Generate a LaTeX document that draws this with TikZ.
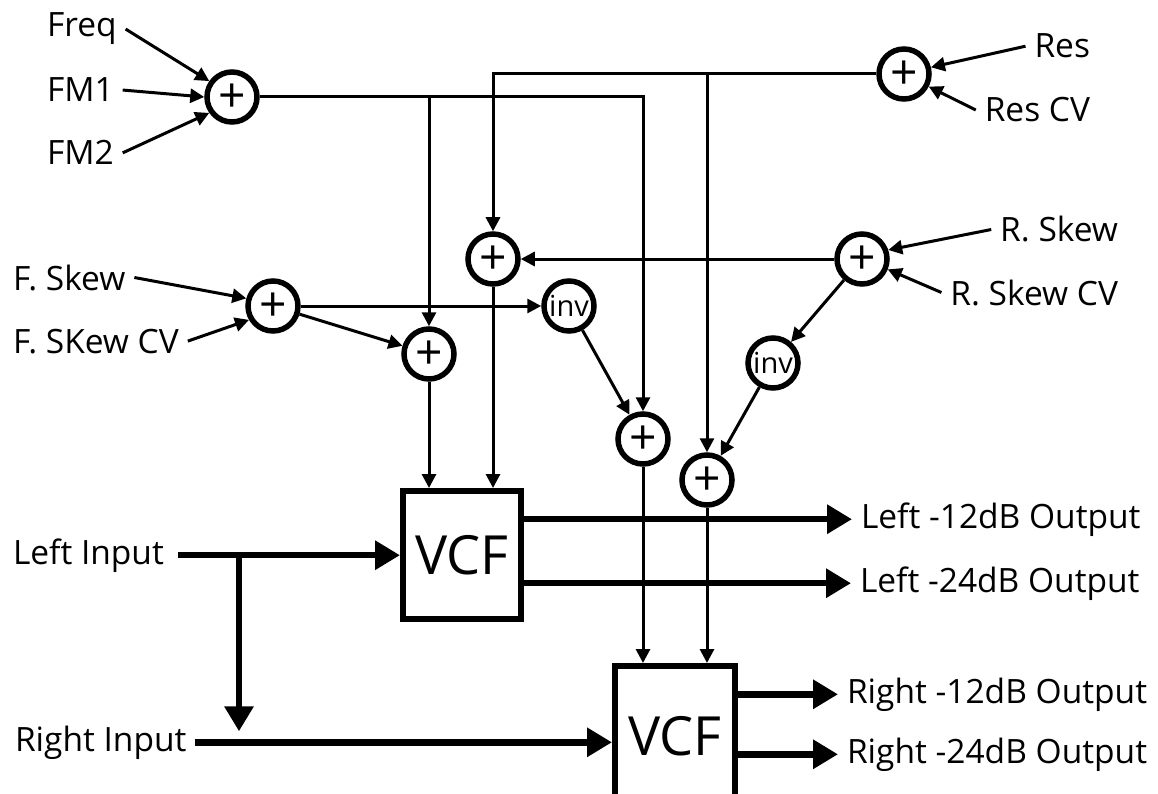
\documentclass[tikz,border=0pt]{standalone}
\usepackage{fontspec}
\setmainfont{Open Sans}
\usetikzlibrary{arrows.meta}
\begin{document}
\begin{tikzpicture}[x=1pt,y=-1pt,
  sum/.style={circle,draw,fill=white,line width=5.5pt,minimum size=50pt,inner sep=0pt,
    font=\fontsize{48}{48}\selectfont},
  invn/.style={circle,draw,fill=white,line width=5.5pt,minimum size=50pt,inner sep=0pt,
    font=\fontsize{29}{29}\selectfont},
  lbl/.style={inner sep=0pt,outer sep=9pt,font=\fontsize{33.5}{33.5}\selectfont},
  arr/.style={line width=3pt,-{Triangle[length=14pt,width=14pt]}},
  bus/.style={line width=6.5pt,-{Triangle[length=25pt,width=28pt]}},
  vcf/.style={draw,line width=6pt,fill=white,inner sep=0pt,font=\fontsize{54}{54}\selectfont}
]
\useasboundingbox (0,0) rectangle (1158,794);
\newcommand{\plussign}{\raisebox{-0.33em}[0pt][0pt]{+}}
% summing nodes
\node[sum] (s1) at (232,97) {\plussign};
\node[sum] (sres) at (904,74) {\plussign};
\node[sum] (stop) at (493,259) {\plussign};
\node[sum] (srs) at (862,259) {\plussign};
\node[sum] (sfs) at (273,306) {\plussign};
\node[invn] (inv1) at (569,306) {inv};
\node[sum] (sa) at (429,354) {\plussign};
\node[invn] (inv2) at (773,363) {inv};
\node[sum] (sb) at (643,439) {\plussign};
\node[sum] (sc) at (707,480) {\plussign};
% VCF blocks
\node[vcf,minimum width=118pt,minimum height=128pt] (vcfL) at (462,555) {VCF};
\node[vcf,minimum width=120pt,minimum height=140pt] (vcfR) at (675,736) {VCF};
% labels
\node[lbl,anchor=base west] (freq) at (38,37) {Freq};
\node[lbl,anchor=base west] (fm1) at (38,102) {FM1};
\node[lbl,anchor=base west] (fm2) at (38,165) {FM2};
\node[lbl,anchor=base east] (res) at (1099,58) {Res};
\node[lbl,anchor=base east] (rescv) at (1099,122) {Res CV};
\node[lbl,anchor=base west] (fskew) at (4,290) {F. Skew};
\node[lbl,anchor=base west] (fskewcv) at (4,353) {F. SKew CV};
\node[lbl,anchor=base east] (rskew) at (1127,242) {R. Skew};
\node[lbl,anchor=base east] (rskewcv) at (1127,305) {R. Skew CV};
\node[lbl,anchor=base west,outer sep=14pt] (lin) at (-1,564) {Left Input};
\node[lbl,anchor=base west] (rin) at (6,751) {Right Input};
\node[lbl,anchor=base west] (l12) at (852,528) {Left -12dB Output};
\node[lbl,anchor=base west] (l24) at (851,592) {Left -24dB Output};
\node[lbl,anchor=base west] (r12) at (838,703) {Right -12dB Output};
\node[lbl,anchor=base west] (r24) at (838,763) {Right -24dB Output};
% label inputs
\draw[arr] (freq.east) -- (s1.145);
\draw[arr] (fm1.east) -- (s1.west);
\draw[arr] (fm2.east) -- (s1.215);
\draw[arr] (res.west) -- (sres.14);
\draw[arr] (rescv.west) -- (sres.-27);
\draw[arr] (fskew.east) -- (sfs.164);
\draw[arr] (fskewcv.east) -- (sfs.210);
\draw[arr] (rskew.west) -- (srs.19);
\draw[arr] (rskewcv.west) -- (srs.-22);
% internal wiring
\draw[arr] (sres.west) -- (sres.west -| stop.north) -- (stop.north);
\draw[arr] (sres.west -| sc.north) -- (sc.north);
\draw[arr] (s1.east) -- (s1.east -| sb.north) -- (sb.north);
\draw[arr] (s1.east -| sa.north) -- (sa.north);
\draw[arr] (srs.west) -- (stop.east);
\draw[arr] (sfs.east) -- (inv1.west);
\draw[arr] (sfs) -- (sa);
\draw[arr] (inv1) -- (sb);
\draw[arr] (srs) -- (inv2);
\draw[arr] (inv2) -- (sc);
\draw[arr] (sa) -- (sa |- vcfL.north);
\draw[arr] (stop) -- (stop |- vcfL.north);
\draw[arr] (sb) -- (sb |- vcfR.north);
\draw[arr] (sc) -- (sc |- vcfR.north);
% audio path
\coordinate (split) at (239,555);
\draw[bus] (lin.east) -- (lin.east -| vcfL.west);
\draw[bus] (split) -- ([yshift=11pt]split |- rin.east);
\draw[bus] (rin.east) -- (rin.east -| vcfR.west);
\draw[bus] (vcfL.east |- l12.west) -- (l12.west);
\draw[bus] (vcfL.east |- l24.west) -- (l24.west);
\draw[bus] (vcfR.east |- r12.west) -- (r12.west);
\draw[bus] (vcfR.east |- r24.west) -- (r24.west);
\end{tikzpicture}
\end{document}
